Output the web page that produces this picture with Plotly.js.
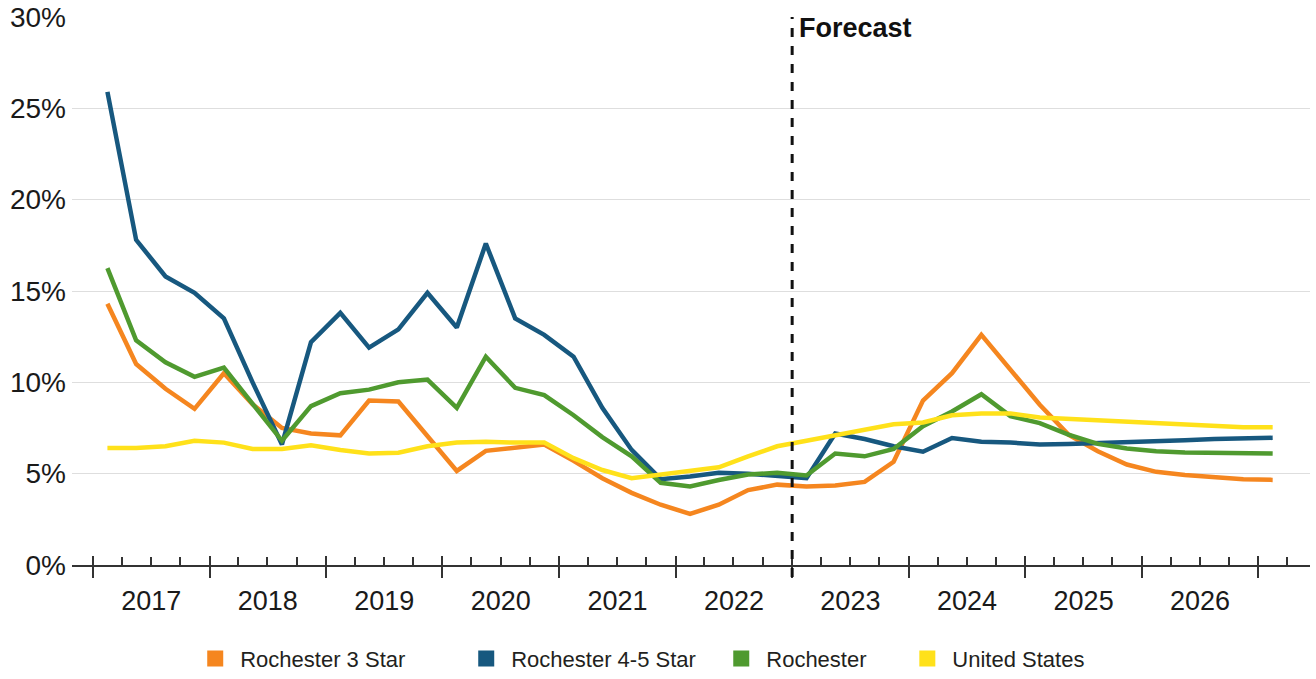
<!DOCTYPE html>
<html>
<head>
<meta charset="utf-8">
<script src="https://cdn.plot.ly/plotly-3.0.1.min.js"></script>
<style>
html,body{margin:0;padding:0;background:#fff;}
#chart{width:1316px;height:679px;}
</style>
</head>
<body>
<div id="chart"></div>
<script>
// ---- Data (quarterly vacancy rates, %) ----
const quarters = [
  '2017-Q1','2017-Q2','2017-Q3','2017-Q4',
  '2018-Q1','2018-Q2','2018-Q3','2018-Q4',
  '2019-Q1','2019-Q2','2019-Q3','2019-Q4',
  '2020-Q1','2020-Q2','2020-Q3','2020-Q4',
  '2021-Q1','2021-Q2','2021-Q3','2021-Q4',
  '2022-Q1','2022-Q2','2022-Q3','2022-Q4',
  '2023-Q1','2023-Q2','2023-Q3','2023-Q4',
  '2024-Q1','2024-Q2','2024-Q3','2024-Q4',
  '2025-Q1','2025-Q2','2025-Q3','2025-Q4',
  '2026-Q1','2026-Q2','2026-Q3','2026-Q4',
  '2027-Q1'
];
const rochester3Star = [
  14.3, 11.0, 9.65, 8.55,
  10.5, 8.8, 7.5, 7.2,
  7.1, 9.0, 8.95, 7.1,
  5.15, 6.25, 6.45, 6.6,
  5.7, 4.75, 3.95, 3.3,
  2.8, 3.3, 4.1, 4.4,
  4.3, 4.35, 4.55, 5.65,
  9.0, 10.5, 12.6, 10.7,
  8.77, 7.14, 6.23, 5.5,
  5.1, 4.93, 4.78, 4.69,
  4.66
];
const rochester45Star = [
  25.9, 17.8, 15.8, 14.9,
  13.5, 10.0, 6.6, 12.2,
  13.8, 11.9, 12.9, 14.9,
  13.0, 17.6, 13.5, 12.6,
  11.4, 8.6, 6.3, 4.7,
  4.85, 5.05, 5.0, 4.9,
  4.75, 7.2, 6.9, 6.5,
  6.2, 6.95, 6.75, 6.7,
  6.6, 6.63, 6.67, 6.74,
  6.78, 6.83, 6.9, 6.94,
  6.96
];
const rochester = [
  16.25, 12.3, 11.1, 10.3,
  10.8, 8.8, 6.8, 8.7,
  9.4, 9.6, 10.0, 10.15,
  8.6, 11.4, 9.7, 9.3,
  8.2, 7.0, 5.95, 4.5,
  4.3, 4.65, 4.95, 5.05,
  4.9, 6.1, 5.95, 6.35,
  7.6, 8.4, 9.35, 8.15,
  7.77, 7.14, 6.63, 6.38,
  6.23, 6.16, 6.12, 6.1,
  6.1
];
const unitedStates = [
  6.4, 6.4, 6.5, 6.8,
  6.7, 6.35, 6.35, 6.55,
  6.3, 6.1, 6.15, 6.5,
  6.7, 6.75, 6.7, 6.7,
  5.85, 5.2, 4.75, 4.95,
  5.1, 5.35, 5.95, 6.5,
  6.8, 7.1, 7.4, 7.7,
  7.8, 8.2, 8.3, 8.3,
  8.08, 8.0, 7.9, 7.83,
  7.74, 7.65, 7.6, 7.54,
  7.54
];
const seriesNames = ['Rochester 3 Star', 'Rochester 4-5 Star', 'Rochester', 'United States'];
const seriesValues = [rochester3Star, rochester45Star, rochester, unitedStates];
const yTickVals = [0, 5, 10, 15, 20, 25, 30];
const yTickText = yTickVals.map(function (v) { return v + '%'; });
const forecastStart = '2023-01-01';
const forecastLabel = 'Forecast';

// ---- Styling ----
const colors = ['#F5861F', '#17587F', '#4F9A2F', '#FFE11A'];
const FONT = 'Liberation Sans, Arial, Helvetica, sans-serif';
const quarterMid = ['02-15', '05-16', '08-16', '11-15'];
function quarterToDate(q) {
  const parts = q.split('-Q');
  return parts[0] + '-' + quarterMid[parseInt(parts[1], 10) - 1];
}
const xDates = quarters.map(quarterToDate);
const xRange = ['2016-10-27', '2027-06-12'];

const traces = [];
seriesValues.forEach(function (vals, i) {
  traces.push({
    type: 'scatter', mode: 'lines', x: xDates, y: vals, name: seriesNames[i],
    line: {color: colors[i], width: 4.5}, showlegend: false, hoverinfo: 'x+y+name'
  });
});
// legend-only entries (square swatches), one legend each so spacing can match
const legendIds = ['legend', 'legend2', 'legend3', 'legend4'];
const legendX = [0.0955, 0.3144, 0.5204, 0.6707];
seriesNames.forEach(function (n, i) {
  traces.push({
    type: 'scatter', mode: 'markers', x: [null], y: [null], name: n,
    xaxis: 'x2',
    marker: {symbol: 'square', size: 16, color: colors[i]},
    showlegend: true, legend: legendIds[i]
  });
});

const legendBase = {
  orientation: 'h', xanchor: 'left', yanchor: 'middle', y: -0.171,
  itemwidth: 40,
  font: {family: FONT, size: 22, color: '#231f20'},
  bgcolor: 'rgba(0,0,0,0)', itemclick: false, itemdoubleclick: false
};
const layout = {
  width: 1316, height: 679,
  margin: {l: 72, r: 6, t: 17, b: 114, autoexpand: false},
  paper_bgcolor: '#ffffff', plot_bgcolor: '#ffffff',
  font: {family: FONT, color: '#1a1a1a'},
  xaxis: {
    type: 'date', range: xRange, tickmode: 'linear', tick0: '2017-01-01', dtick: 'M12',
    ticklabelmode: 'period', tickformat: '%Y',
    ticks: 'outside', ticklen: 11, tickwidth: 2, tickcolor: '#333333',
    showline: true, linecolor: '#333333', linewidth: 2,
    showgrid: false, zeroline: false,
    tickfont: {family: FONT, size: 27, color: '#1a1a1a'},
    minor: {tick0: '2017-01-01', dtick: 'M3', ticks: 'inside', ticklen: 8, tickwidth: 2, tickcolor: '#333333', showgrid: false},
    fixedrange: true
  },
  xaxis2: {
    type: 'date', overlaying: 'x', anchor: 'y', side: 'bottom', range: xRange,
    tickmode: 'linear', tick0: '2017-01-01', dtick: 'M12',
    ticks: 'inside', ticklen: 9, tickwidth: 2, tickcolor: '#333333',
    showticklabels: false, showgrid: false, showline: false, zeroline: false, fixedrange: true
  },
  yaxis: {
    range: [0, 30], tickmode: 'array', tickvals: yTickVals, ticktext: yTickText,
    showgrid: true, gridcolor: '#dedede', gridwidth: 1,
    zeroline: false, showline: false, ticks: '', ticklabelstandoff: 5,
    tickfont: {family: FONT, size: 28, color: '#1a1a1a'},
    fixedrange: true
  },
  shapes: [{
    type: 'line', xref: 'x', yref: 'paper', x0: forecastStart, x1: forecastStart,
    y0: -0.022, y1: 1.0, line: {color: '#111111', width: 3, dash: 'dash'}
  }],
  annotations: [{
    xref: 'x', yref: 'paper', x: forecastStart, y: 1, xanchor: 'left', yanchor: 'middle',
    xshift: 5, yshift: -11, showarrow: false,
    text: '<b>' + forecastLabel + '</b>',
    font: {family: FONT, size: 27, color: '#111111'}
  }],
  showlegend: true
};
legendIds.forEach(function (id, i) {
  layout[id] = Object.assign({}, legendBase, {x: legendX[i]});
});

Plotly.newPlot('chart', traces, layout, {displayModeBar: false, staticPlot: true});
</script>
</body>
</html>
